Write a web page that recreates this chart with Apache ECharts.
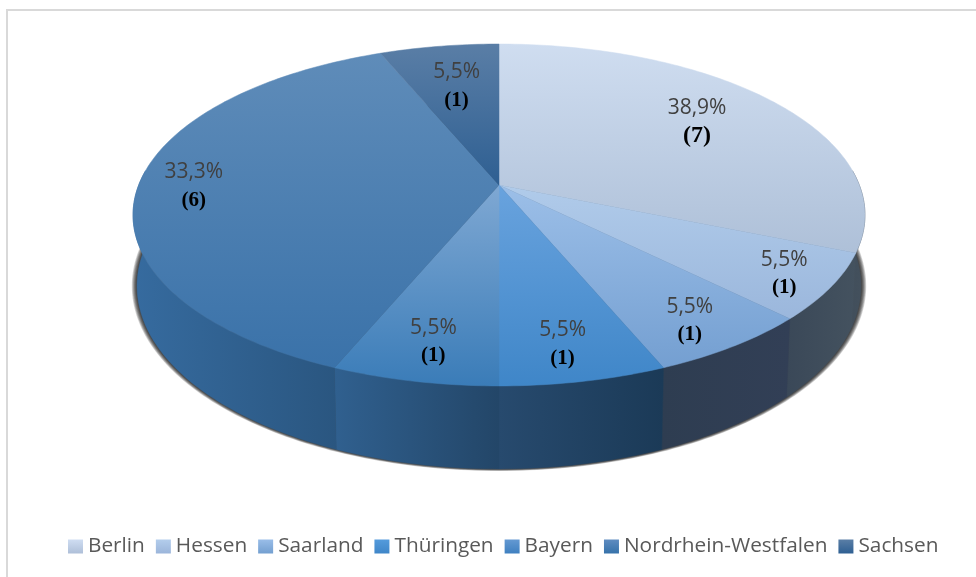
<!DOCTYPE html>
<html><head><meta charset="utf-8">
<style>html,body{margin:0;padding:0;background:#fff}#c{width:976px;height:577px}</style>
<script src="https://cdn.jsdelivr.net/npm/echarts@6/dist/echarts.min.js"></script>
</head><body><div id="c"></div>
<script>
// Categories and the numbers as printed in the reference
const categories = ['Berlin','Hessen','Saarland','Thüringen','Bayern','Nordrhein-Westfalen','Sachsen'];
const percentLabels = ['38,9%','5,5%','5,5%','5,5%','5,5%','33,3%','5,5%'];
const countLabels = ['(7)','(1)','(1)','(1)','(1)','(6)','(1)'];
// Slice sizes as actually drawn in the reference (sixteenths of the circle)
const sliceValues = [5,1,1,1,1,6,1];
const labelAngle = [54.5,123.6,146.8,169.5,191,270,349];
const labelRadius = [0.725,0.87,0.847,0.83,0.82,0.847,0.69];
const countFontSizes = [24,21,21,21,21,21,21];
const topColors = [
  ['#cfddf0','#aec0d8'],
  ['#b0cbea','#9bb7dc'],
  ['#9cbfe8','#749fd1'],
  ['#69a3de','#3f86c8'],
  ['#7fa8d3','#3a7cb8'],
  ['#5f8cb9','#3a72a9'],
  ['#5a7ea6','#2e5f92']
];
const legendColors = [
  ['#cfddf2','#aebfd8'],
  ['#b3cdec','#9bb5da'],
  ['#99bde8','#739fd0'],
  ['#549bdc','#3f86c8'],
  ['#6499d2','#3f80c0'],
  ['#5f8cc0','#3672aa'],
  ['#5a7ea6','#2e5f92']
];
const wallColors = [
  ['#414e5b','#44515d'],
  ['#3a4858','#44525f'],
  ['#2e3d51','#323f56'],
  ['#274a6e','#1b3a57'],
  ['#30608f','#234668'],
  ['#366b9f','#2a5680'],
  ['#2a5680','#2a5680']
];
const shadowSpread = [1,2,3,4,5,6,7];

const cx = 499, apexY = 185, k = 0.1754, b = -165.7, R = 360.3;
const wallCy = 286, wallSx = 0.989, wallSy = 1.07, topCy = 215;
const rad = d => d * Math.PI / 180;
function topPoint(deg, r) {
  const u = r * Math.cos(rad(deg)), v = r * Math.sin(rad(deg)), f = 1 + k * u;
  return [cx + R * v / f, apexY + b * u / f];
}
function wallPoint(deg) {
  const p = topPoint(deg, 1);
  return [cx + (p[0] - cx) * wallSx, wallCy + (p[1] - topCy) * wallSy];
}
function arc(from, to, fn) {
  const pts = [], n = Math.max(2, Math.ceil(Math.abs(to - from)));
  for (let i = 0; i <= n; i++) pts.push(fn(from + (to - from) * i / n, 1));
  return pts;
}
const vGrad = c => ({type:'linear',x:0,y:0,x2:0,y2:1,colorStops:[{offset:0,color:c[0]},{offset:1,color:c[1]}]});
const hGrad = c => ({type:'linear',x:0,y:0,x2:1,y2:0,colorStops:[{offset:0,color:c[0]},{offset:1,color:c[1]}]});

const total = sliceValues.reduce((a, c) => a + c, 0);
const starts = [];
sliceValues.reduce((a, c, i) => { starts[i] = a; return a + c; }, 0);

function renderSlice(i) {
  return function () {
    const a0 = starts[i] / total * 360, a1 = (starts[i] + sliceValues[i]) / total * 360;
    const children = [];
    if (i === 0) {
      shadowSpread.forEach(e => {
        children.push({
          type:'polygon', z2:-1, silent:true,
          shape:{points:arc(0, 360, d => {
            const p = wallPoint(d);
            return [cx + (p[0]-cx)*(1+e*0.75/362), wallCy + (p[1]-wallCy)*(1+e*0.3/183)];
          })},
          style:{fill:'rgba(0,0,0,0.17)'}
        });
      });
    }
    const w0 = Math.max(a0, 85), w1 = Math.min(a1, 275);
    if (w1 > w0) {
      const pts = arc(w0, w1, topPoint).concat(arc(w1, w0, wallPoint));
      const g = hGrad(wallColors[i]);
      children.push({type:'polygon', z2:1, shape:{points:pts}, style:{fill:g, stroke:g, lineWidth:0.5}});
    }
    const face = [topPoint(0, 0)].concat(arc(a0, a1, topPoint));
    const fg = vGrad(topColors[i]);
    children.push({type:'polygon', z2:5, shape:{points:face}, style:{fill:fg, stroke:fg, lineWidth:0.5}});
    const lp = topPoint(labelAngle[i], labelRadius[i]);
    children.push({
      type:'text', z2:10, x:lp[0], y:lp[1] + 1.5,
      style:{
        text:'{p|' + percentLabels[i] + '}\n{c|' + countLabels[i] + '}',
        align:'center', verticalAlign:'middle',
        rich:{
          p:{fontFamily:'Open Sans',fontSize:21,fill:'#404040',lineHeight:28,align:'center'},
          c:{fontFamily:'Liberation Serif',fontWeight:'bold',fontSize:countFontSizes[i],fill:'#000',lineHeight:28,align:'center'}
        }
      }
    });
    return {type:'group', children};
  };
}

const chart = echarts.init(document.getElementById('c'), null, {renderer:'canvas'});
chart.setOption({
  animation:false,
  tooltip:{show:false},
  legend:{
    data:categories, left:68, top:536, padding:0, itemWidth:15, itemHeight:14, itemGap:11,
    icon:'rect', selectedMode:false,
    textStyle:{fontFamily:'Open Sans',fontSize:20.8,color:'#595959'}
  },
  graphic:[{type:'rect',silent:true,z:-10,
    shape:{x:7,y:10,width:1000,height:600},
    style:{fill:'#fff',stroke:'#d9d9d9',lineWidth:2}}],
  series:categories.map((name,i)=>({
    type:'custom', name, coordinateSystem:'none',
    data:[sliceValues[i]], renderItem:renderSlice(i),
    itemStyle:{color:vGrad(legendColors[i])}
  }))
});
</script></body></html>
